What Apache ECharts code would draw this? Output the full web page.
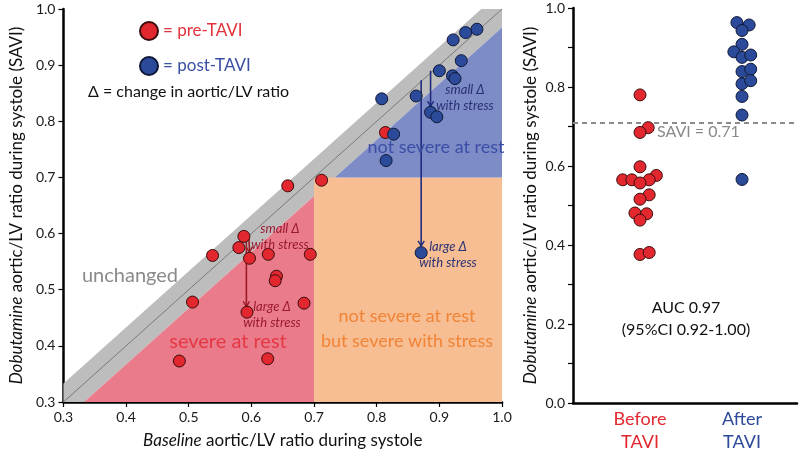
<!DOCTYPE html>
<html><head><meta charset="utf-8">
<script src="https://cdn.jsdelivr.net/npm/echarts@6/dist/echarts.min.js"></script>
<style>html,body{margin:0;padding:0;background:#fff}#c{width:800px;height:454px}</style>
</head><body><div id="c"></div>
<script>
// ---- Data ----
const axisTicks = [0.3,0.4,0.5,0.6,0.7,0.8,0.9,1.0];
const preX  = [0.658,0.712,0.588,0.580,0.538,0.597,0.627,0.694,0.640,0.638,0.506,0.684,0.593,0.485,0.626,0.814];
const preY  = [0.685,0.695,0.595,0.575,0.561,0.556,0.563,0.563,0.524,0.516,0.478,0.476,0.460,0.373,0.377,0.780];
const postX = [0.960,0.942,0.922,0.935,0.900,0.921,0.925,0.863,0.808,0.886,0.896,0.827,0.815,0.871];
const postY = [0.964,0.958,0.945,0.908,0.890,0.881,0.876,0.845,0.840,0.816,0.808,0.777,0.730,0.566];
const groups = ['Before\nTAVI','After\nTAVI'];
const beforeY      = [0.780,0.697,0.685,0.598,0.576,0.565,0.565,0.565,0.557,0.527,0.516,0.481,0.479,0.463,0.376,0.381];
const beforeJitter = [0,0.08,0,0,0.16,-0.17,-0.08,0.09,0,0.09,0,-0.05,0.065,0,0,0.09];
const afterY       = [0.963,0.957,0.943,0.908,0.889,0.875,0.881,0.839,0.845,0.808,0.816,0.776,0.729,0.566];
const afterJitter  = [-0.05,0.07,0,0,-0.08,0,0.085,0,0.085,0,0.085,0,0,0];
const saviCut = 0.71;
const band = 0.033;
const grayBand   = [[0.3,0.3],[0.3+band,0.3],[1.0,1.0-band],[1.0,1.0],[1.0-band,1.0],[0.3,0.3+band]];
const severeRest = [[0.3+band,0.3],[0.7,0.3],[0.7,0.7-band]];
const stressOnly = [[0.7,0.3],[1.0,0.3],[1.0,0.7],[0.7,0.7]];
const notSevere  = [[0.7+band,0.7],[1.0,0.7],[1.0,1.0-band]];
const diagonal   = [[0.3,0.3],[1.0,1.0]];
const redArrows  = [[0.592,0.593,0.592,0.470],[0.596,0.593,0.597,0.567]];
const blueArrows = [[0.871,0.873,0.871,0.578],[0.886,0.890,0.886,0.827]];

const FONT = 'Lato, "Open Sans", sans-serif';
const RED = '#e2272f', BLUE = '#2c4a9a';

function polySeries(pts, color, z){
  return {type:'custom', xAxisIndex:0, yAxisIndex:0, z:z, silent:true, clip:true,
    data: pts,
    renderItem: function(params, api){
      if (params.dataIndex !== 0) return null;
      return {type:'polygon', shape:{points: pts.map(p=>api.coord(p))}, style:{fill:color}};
    }};
}
function arrowSeries(arr, color){
  return {type:'custom', xAxisIndex:0, yAxisIndex:0, z:5, silent:true,
    data: arr,
    renderItem: function(params, api){
      const a = api.coord([api.value(0), api.value(1)]);
      const b = api.coord([api.value(2), api.value(3)]);
      const ang = Math.atan2(b[1]-a[1], b[0]-a[0]);
      const L = 6, w = 0.55;
      const p1 = [b[0]-L*Math.cos(ang-w), b[1]-L*Math.sin(ang-w)];
      const p2 = [b[0]-L*Math.cos(ang+w), b[1]-L*Math.sin(ang+w)];
      return {type:'group', children:[
        {type:'line', shape:{x1:a[0],y1:a[1],x2:b[0],y2:b[1]}, style:{stroke:color, lineWidth:1.6}},
        {type:'polyline', shape:{points:[p1,b,p2]}, style:{stroke:color, lineWidth:1.4, fill:null}}
      ]};
    }};
}
function txt(x, y, text, fill, font, extra){
  return {type:'text', x:x, y:y, z:20, zlevel:0,
    style:Object.assign({text:text, fill:fill, font:font, textAlign:'center', textVerticalAlign:'middle'}, extra||{})};
}

const axisCommon = {
  axisLine:{show:true, onZero:false, lineStyle:{color:'#000', width:2.5}},
  axisTick:{show:true, length:5, lineStyle:{color:'#000', width:1.2}},
  splitLine:{show:false},
  axisLabel:{color:'#1a1a1a', fontSize:14, fontFamily:FONT}
};
const titleRich = {i:{fontStyle:'italic', fontSize:17, fontFamily:FONT, color:'#111'}};

const option = {
  animation:false,
  textStyle:{fontFamily:FONT},
  grid:[
    {left:61, top:9, width:441, height:394},
    {left:573, top:8, width:224, height:395}
  ],
  xAxis:[
    Object.assign({}, axisCommon, {type:'value', gridIndex:0, min:0.3, max:1.0, interval:0.1,
      axisLabel:Object.assign({}, axisCommon.axisLabel, {margin:8, formatter:v=>v.toFixed(1)}),
      name:'{i|Baseline} aortic/LV ratio during systole', nameLocation:'middle', nameGap:30,
      nameTextStyle:{fontSize:17, color:'#111', fontFamily:FONT, rich:titleRich}}),
    {type:'value', gridIndex:1, min:-0.657, max:1.539,
      axisLine:{show:true, onZero:false, lineStyle:{color:'#000', width:2.5}},
      axisTick:{show:false}, splitLine:{show:false},
      axisLabel:{customValues:[0,1], margin:5, fontSize:18, lineHeight:23, fontFamily:FONT,
        formatter:v=> v===0 ? '{r|Before}\n{r|TAVI}' : '{b|After}\n{b|TAVI}',
        rich:{r:{color:RED, fontSize:18, lineHeight:23, fontFamily:FONT}, b:{color:'#2d4a9a', fontSize:18, lineHeight:23, fontFamily:FONT}}}}
  ],
  yAxis:[
    Object.assign({}, axisCommon, {type:'value', gridIndex:0, min:0.3, max:1.0, interval:0.1,
      axisLabel:Object.assign({}, axisCommon.axisLabel, {margin:8, formatter:v=>v.toFixed(1)}),
      name:'{i|Dobutamine} aortic/LV ratio during systole (SAVI)', nameLocation:'middle', nameGap:34,
      nameTextStyle:{fontSize:17, color:'#111', fontFamily:FONT, rich:titleRich}}),
    Object.assign({}, axisCommon, {type:'value', gridIndex:1, min:0, max:1.0, interval:0.1,
      axisLabel:Object.assign({}, axisCommon.axisLabel, {margin:8,
        formatter:v=> (Math.round(v*10)%2===0 ? v.toFixed(1) : '')}),
      name:'{i|Dobutamine} aortic/LV ratio during systole (SAVI)', nameLocation:'middle', nameGap:34,
      nameTextStyle:{fontSize:17, color:'#111', fontFamily:FONT, rich:titleRich}})
  ],
  legend:{
    orient:'vertical', left:134, top:16, itemWidth:18, itemHeight:18, itemGap:15,
    icon:'circle', selectedMode:false, formatter:'= {name}',
    textStyle:{fontSize:17, fontFamily:FONT},
    data:[{name:'pre-TAVI', textStyle:{color:'#e2323a'}}, {name:'post-TAVI', textStyle:{color:'#3a4fa3'}}]
  },
  graphic:[
    txt(88, 92, 'Δ = change in aortic/LV ratio', '#111', '16px '+FONT, {textAlign:'left'}),
    txt(130, 276, 'unchanged', '#8a8a8a', '20px '+FONT),
    txt(228, 342, 'severe at rest', '#e63844', '20px '+FONT),
    txt(407, 329, 'not severe at rest\nbut severe with stress', '#f08436', '18px '+FONT, {lineHeight:25}),
    txt(436, 147, 'not severe at rest', '#3d4ea6', '18px '+FONT),
    txt(280, 237, 'small Δ\nwith stress', '#9c1a30', 'italic 13px '+FONT, {lineHeight:16}),
    txt(272, 315, 'large Δ\nwith stress', '#9c1a30', 'italic 13px '+FONT, {lineHeight:16}),
    txt(465, 98, 'small Δ\nwith stress', '#283276', 'italic 13px '+FONT, {lineHeight:16}),
    txt(448, 255, 'large Δ\nwith stress', '#283276', 'italic 13px '+FONT, {lineHeight:16}),
    txt(686, 308, 'AUC 0.97', '#111', '16px '+FONT),
    txt(686, 330, '(95%CI 0.92-1.00)', '#111', '16px '+FONT),
    txt(657, 132, 'SAVI = ' + saviCut.toFixed(2), '#8a8a8a', '16px '+FONT, {textAlign:'left'})
  ],
  series:[
    polySeries(grayBand, '#bdbdbd', 1),
    polySeries(severeRest, '#e97b8b', 1),
    polySeries(stressOnly, '#f7bd93', 1),
    polySeries(notSevere, '#7d8bc6', 1),
    {type:'line', xAxisIndex:0, yAxisIndex:0, z:2, silent:true, symbol:'none', data:diagonal,
      lineStyle:{color:'#7a7a7a', width:1}},
    arrowSeries(redArrows, '#9c1a24'),
    arrowSeries(blueArrows, '#1f2c7c'),
    {name:'pre-TAVI', type:'scatter', xAxisIndex:0, yAxisIndex:0, z:8, symbolSize:12,
      itemStyle:{color:RED, borderColor:'#3a0c0c', borderWidth:1, opacity:1},
      data: preX.map((x,i)=>[x, preY[i]])},
    {name:'post-TAVI', type:'scatter', xAxisIndex:0, yAxisIndex:0, z:8, symbolSize:12,
      itemStyle:{color:BLUE, borderColor:'#0e1836', borderWidth:1, opacity:1},
      data: postX.map((x,i)=>[x, postY[i]])},
    {name:groups[0], type:'scatter', xAxisIndex:1, yAxisIndex:1, z:8, symbolSize:12,
      itemStyle:{color:RED, borderColor:'#3a0c0c', borderWidth:1, opacity:1},
      data: beforeY.map((y,i)=>[0+beforeJitter[i], y]),
      markLine:{silent:true, symbol:'none', label:{show:false},
        lineStyle:{color:'#8c8c8c', type:[5,4], width:2}, data:[{yAxis:saviCut}]}},
    {name:groups[1], type:'scatter', xAxisIndex:1, yAxisIndex:1, z:8, symbolSize:12,
      itemStyle:{color:BLUE, borderColor:'#0e1836', borderWidth:1, opacity:1},
      data: afterY.map((y,i)=>[1+afterJitter[i], y])}
  ]
};
const chart = echarts.init(document.getElementById('c'), null, {renderer:'canvas'});
chart.setOption(option);
</script></body></html>
